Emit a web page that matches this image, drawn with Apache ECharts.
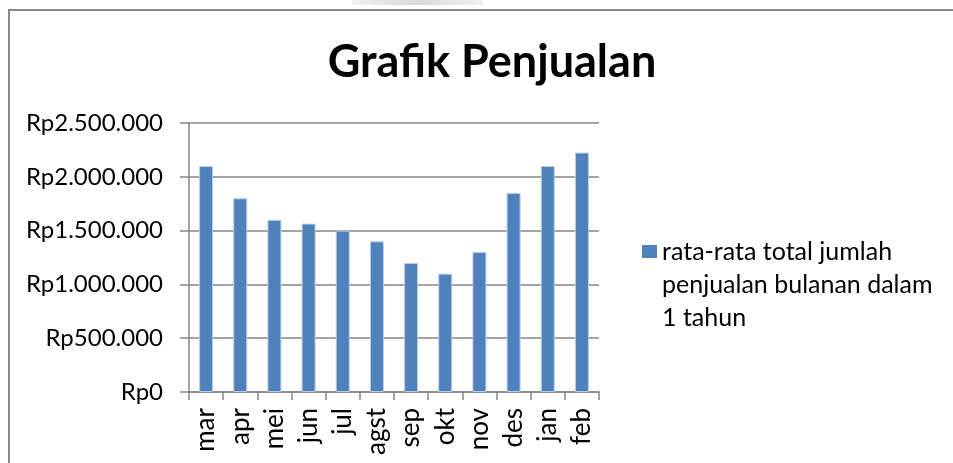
<!DOCTYPE html>
<html>
<head>
<meta charset="utf-8">
<script src="https://cdn.jsdelivr.net/npm/echarts@6/dist/echarts.min.js"></script>
<style>
html,body{margin:0;padding:0;background:#fff;}
#c{width:953px;height:463px;}
</style>
</head>
<body>
<div id="c"></div>
<script>
var categories = ['mar','apr','mei','jun','jul','agst','sep','okt','nov','des','jan','feb'];
var salesValues = [2100000,1800000,1600000,1565000,1500000,1400000,1200000,1100000,1300000,1850000,2100000,2225000];
var yTicks = [0,500000,1000000,1500000,2000000,2500000];
var seriesName = 'rata-rata total jumlah penjualan bulanan dalam 1 tahun';
var legendLines = ['rata-rata total jumlah','penjualan bulanan dalam','1 tahun'];
var titleText = 'Grafik Penjualan';

function fmtRp(v){
  var s = String(Math.round(v));
  return 'Rp' + s.replace(/\B(?=(\d{3})+(?!\d))/g, '.');
}

var FONT = 'Lato';
var LH = 33;
var chart = echarts.init(document.getElementById('c'));
chart.setOption({
  animation:false,
  backgroundColor:'#fff',
  title:{
    text:titleText,
    left:487, top:35, textAlign:'center',
    textStyle:{fontFamily:FONT,fontWeight:'bold',fontSize:45,color:'#000'}
  },
  grid:{left:189, top:123, right:354, bottom:71, containLabel:false},
  legend:{
    left:642, top:251.5 - 2.5*LH, padding:0,
    icon:'rect', itemWidth:15, itemHeight:13,
    itemGap:8,
    itemStyle:{borderWidth:0,color:'#4F81BD'},
    formatter:function(){return '\n\n' + legendLines.join('\n');},
    textStyle:{fontFamily:FONT,fontSize:25,color:'#000',lineHeight:LH},
    data:[seriesName]
  },
  xAxis:{
    type:'category',
    data:categories,
    boundaryGap:true,
    axisLine:{lineStyle:{color:'#868686',width:1.5}},
    axisTick:{show:true,length:8,lineStyle:{color:'#868686',width:1.5},alignWithLabel:false},
    axisLabel:{rotate:90,margin:16,fontFamily:FONT,fontSize:26,color:'#000',interval:0}
  },
  yAxis:{
    type:'value',
    min:yTicks[0], max:yTicks[yTicks.length-1], interval:yTicks[1]-yTicks[0],
    axisLine:{show:true,lineStyle:{color:'#868686',width:1.5}},
    axisTick:{show:true,length:9,lineStyle:{color:'#868686',width:1.5}},
    splitLine:{show:true,lineStyle:{color:'#868686',width:1.5}},
    axisLabel:{margin:26,fontFamily:FONT,fontSize:24,color:'#000',formatter:fmtRp}
  },
  series:[{
    name:seriesName,
    type:'bar',
    data:salesValues,
    barWidth:'41%',
    itemStyle:{color:'#4F81BD',borderColor:'#b9cde5',borderWidth:1}
  }],
  graphic:[
    {type:'rect',shape:{x:9,y:10,width:960,height:470},style:{fill:'none',stroke:'#8a8a8a',lineWidth:2},z:-1},
    {type:'rect',shape:{x:352,y:0,width:131,height:5},style:{fill:new echarts.graphic.LinearGradient(0,0,1,0,[{offset:0,color:'#f2f2f2'},{offset:0.5,color:'#d9d9d9'},{offset:1,color:'#f2f2f2'}])},z:-1}
  ]
});
</script>
</body>
</html>
